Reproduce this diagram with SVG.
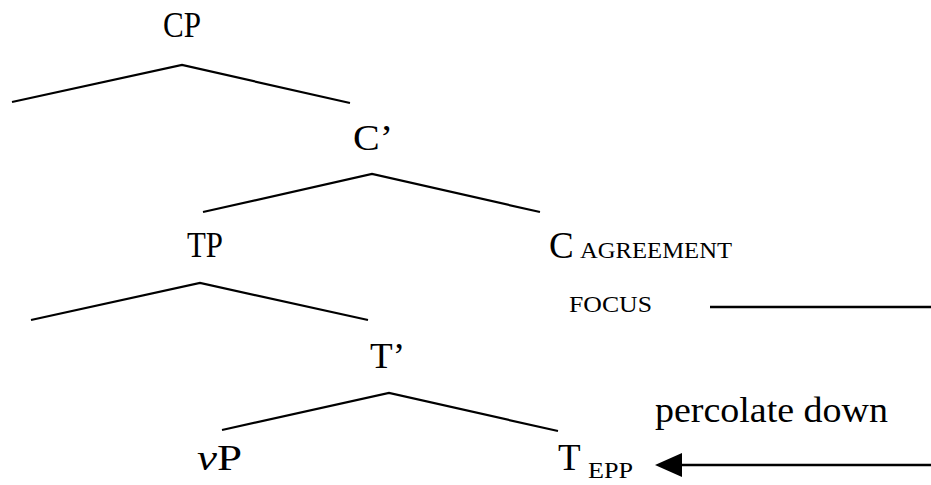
<svg xmlns="http://www.w3.org/2000/svg" width="931" height="485" viewBox="0 0 931 485">
  <style>
    .lbl { font-family: "Liberation Serif", "Times New Roman", serif; font-size: 35px; fill: #000; }
    .big { font-family: "Liberation Serif", "Times New Roman", serif; font-size: 37px; fill: #000; }
    .sub { font-family: "Liberation Serif", "Times New Roman", serif; font-size: 23px; fill: #000; }
    .note { font-family: "Liberation Serif", "Times New Roman", serif; font-size: 36px; fill: #000; }
    .branch { fill: none; stroke: #000; stroke-width: 2.2; stroke-linejoin: miter; }
    .rule { fill: none; stroke: #000; stroke-width: 2.5; }
  </style>
  <rect width="931" height="485" fill="#fff"/>

  <g id="connectors">
    <polyline class="branch" points="12,102 182,65 350,103"/>
    <polyline class="branch" points="203,212 372,174 540,212"/>
    <polyline class="branch" points="31,320 200,283 368,320"/>
    <polyline class="branch" points="222,430 389,393 558,431"/>
    <line class="rule" x1="710" y1="307" x2="931" y2="307"/>
    <line class="rule" x1="680" y1="465" x2="931" y2="465"/>
    <path d="M655,465 L682,453 L682,477 Z" fill="#000"/>
  </g>

  <g id="node-cp">
    <text class="lbl" x="163" y="37" textLength="38" lengthAdjust="spacingAndGlyphs">CP</text>
  </g>
  <g id="node-cbar">
    <text class="lbl" x="353" y="150" textLength="40" lengthAdjust="spacingAndGlyphs">C’</text>
  </g>
  <g id="node-tp">
    <text class="lbl" x="187" y="257" textLength="36" lengthAdjust="spacingAndGlyphs">TP</text>
  </g>
  <g id="node-c">
    <text class="big" x="549" y="258">C</text>
    <text class="sub" x="580" y="258" textLength="152" lengthAdjust="spacingAndGlyphs">AGREEMENT</text>
    <text class="sub" x="569" y="312" textLength="83" lengthAdjust="spacingAndGlyphs">FOCUS</text>
  </g>
  <g id="node-tbar">
    <text class="lbl" x="370" y="368" textLength="35" lengthAdjust="spacingAndGlyphs">T’</text>
  </g>
  <g id="node-vp">
    <text class="lbl" x="197" y="470" textLength="45" lengthAdjust="spacingAndGlyphs"><tspan font-style="italic">v</tspan>P</text>
  </g>
  <g id="node-t">
    <text class="big" x="558" y="470">T</text>
    <text class="sub" x="588" y="478" textLength="45" lengthAdjust="spacingAndGlyphs">EPP</text>
  </g>
  <g id="label-percolate">
    <text class="note" x="655" y="422" textLength="233" lengthAdjust="spacingAndGlyphs">percolate down</text>
  </g>
</svg>
